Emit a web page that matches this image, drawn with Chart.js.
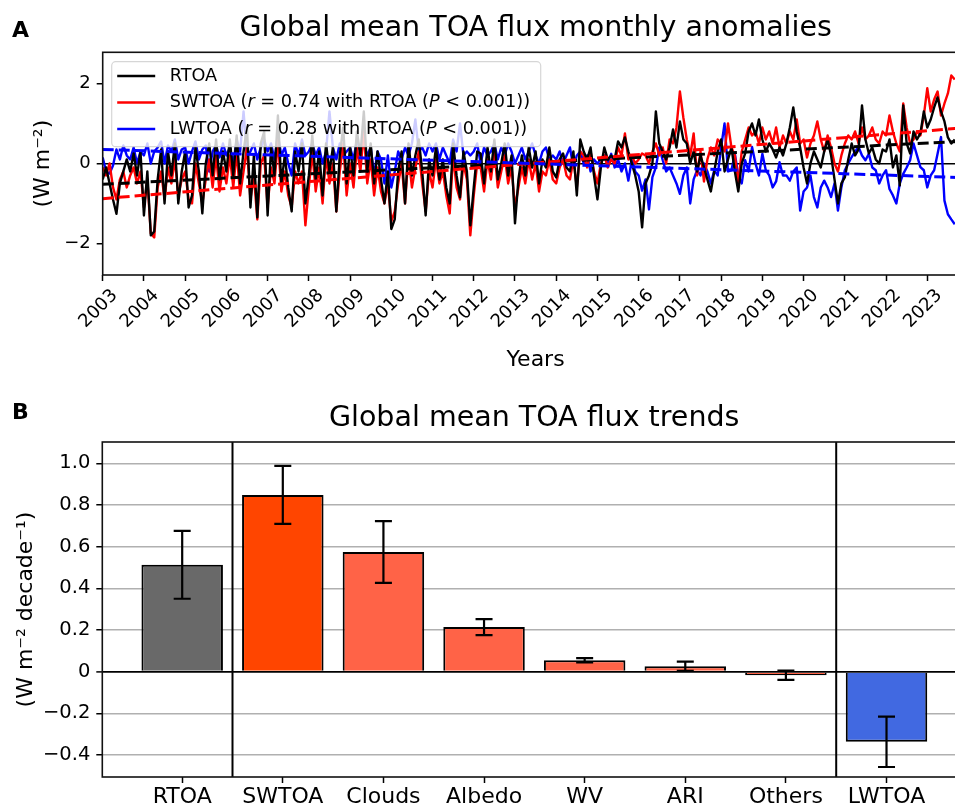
<!DOCTYPE html>
<html>
<head>
<meta charset="utf-8">
<title>Global mean TOA flux</title>
<script src="https://cdn.jsdelivr.net/npm/chart.js@4.4.1/dist/chart.umd.min.js"></script>
<style>
  html, body { margin: 0; padding: 0; background: #fff; overflow: hidden; width: 955px; height: 808px; }
  #wrap { position: relative; width: 955px; height: 808px; overflow: hidden; }
  canvas { position: absolute; left: 0; }
  #chartA { top: 0; width: 975px; height: 385px; }
  #chartB { top: 385px; width: 975px; height: 423px; }
</style>
</head>
<body>
<div id="wrap">
  <canvas id="chartA" width="975" height="385"></canvas>
  <canvas id="chartB" width="975" height="423"></canvas>
</div>
<script>
"use strict";

// ---- Panel A data: monthly anomalies (W m-2), Jan 2003 onwards ----
const startYear = 2003
const yearTicks = [2003, 2004, 2005, 2006, 2007, 2008, 2009, 2010, 2011, 2012, 2013,
                   2014, 2015, 2016, 2017, 2018, 2019, 2020, 2021, 2022, 2023]
const yTicksA = [-2, 0, 2]

const rtoa = [
  -0.4, -0.1, -0.5, -0.9, -1.26, -0.5, -0.2, 0.1, -0.2, 0.25, -0.3, 0.3,      // 2003
  -1.3, -0.2, -1.8, -1.7, -0.4, 0.35, -1.0, 0.3, -0.3, 0.5, -1.0, -0.2,       // 2004
  0.3, -1.1, -0.8, 0.4, -0.2, -1.25, 0.0, 0.5, -0.3, 0.6, -0.4, 0.3,          // 2005
  -0.2, 0.6, -0.3, 0.7, -0.5, 0.3, 0.9, -1.1, 0.2, -1.35, 0.5, 0.8,           // 2006
  -1.3, 0.4, -0.3, 1.2, -0.5, 0.2, -0.6, -1.2, 0.3, -0.2, 0.5, -1.0,          // 2007
  -0.3, 0.7, -0.4, 0.3, -0.8, 0.5, -0.2, 0.4, -1.2, 0.2, 0.9, -0.5,           // 2008
  0.4, -0.3, 0.8, 0.2, 1.3, -0.2, 0.5, -0.5, 0.3, -0.4, -1.0, -0.2,           // 2009
  -1.64, -1.4, -0.2, 0.3, -1.0, 0.5, -0.3, 0.2, 0.6, -0.2, -1.3, 0.1,         // 2010
  -0.3, 0.4, -0.4, 0.1, -0.6, -1.0, 0.5, -0.3, -0.85, 0.3, -0.2, -1.55,       // 2011
  -0.6, 0.3, 0.25, -0.5, 0.4, -0.2, 0.6, -0.4, 0.0, 0.5, -0.3, 0.2,           // 2012
  -1.5, -0.4, 0.2, -0.3, 0.4, -0.1, 0.3, -0.5, 0.1, -0.1, 0.4, -0.2,          // 2013
  -0.35, 0.1, 0.25, -0.1, -0.2, 0.3, -0.8, 0.6, 0.3, 0.1, 0.4, -0.3,          // 2014
  -0.9, -0.1, 0.4, 0.1, 0.2, 0.1, 0.55, 0.4, 0.65, 0.3, 0.0, -0.3,            // 2015
  -0.7, -1.6, -0.5, -0.3, 0.0, 1.3, 0.5, 0.3, 0.1, 0.4, 0.85, 0.4,            // 2016
  1.05, 0.6, 0.5, 0.0, 0.3, -0.2, 0.2, -0.1, -0.4, -0.7, -0.2, 0.3,           // 2017
  0.6, -0.2, 0.1, 0.4, -0.2, -0.7, 0.0, 0.25, 0.8, 1.0, 0.7, 1.1,             // 2018
  0.6, 0.3, 0.5, 0.35, 0.15, 0.4, 0.2, 0.5, 0.9, 1.4, 0.8, 0.4,               // 2019
  -0.1, -0.5, 0.0, 0.3, 0.1, -0.1, 0.3, 0.6, 0.2, -0.4, -1.0, -0.5,           // 2020
  -0.35, 0.1, 0.5, 0.2, 0.35, 1.45, 0.6, 0.25, 0.4, 0.1, 0.0, 0.35,           // 2021
  0.3, 0.6, -0.1, 0.2, -0.55, 1.45, 0.5, 0.25, 0.8, 0.6, 0.75, 1.3,           // 2022
  0.9, 1.1, 1.4, 1.65, 1.3, 1.05, 0.65, 0.5, 0.6                              // 2023
]

const swtoa = [
  -0.1, -0.3, 0.0, -0.6, -0.9, -0.4, -0.2, -0.6, -0.3, -0.1, -0.5, -0.2,      // 2003
  -1.1, -0.4, -1.75, -1.85, -0.6, -0.2, -0.9, -0.1, -0.5, 0.1, -0.8, -0.4,    // 2004
  -0.2, -0.9, -1.0, 0.0, -0.5, -1.0, -0.4, 0.1, -0.6, 0.2, -0.7, -0.1,        // 2005
  -0.5, 0.2, -0.6, 0.3, -0.8, -0.2, 0.4, -0.9, -0.3, -1.4, 0.0, 0.2,          // 2006
  -1.1, -0.1, -0.5, 0.6, -0.7, -0.2, -0.8, -1.1, -0.2, -0.5, -0.2, -1.55,     // 2007
  -0.6, 0.3, -0.7, -0.1, -1.0, 0.2, -0.5, 0.0, -1.2, -0.2, 0.5, -0.8,         // 2008
  0.0, -0.6, 0.4, -0.2, 0.8, -0.5, 0.1, -0.8, -0.1, -0.7, -1.0, -0.5,         // 2009
  -1.45, -1.2, -0.5, 0.0, -1.0, 0.2, -0.6, -0.1, 0.3, -0.5, -1.2, -0.2,       // 2010
  -0.6, 0.1, -0.5, -0.2, -0.8, -1.25, 0.2, -0.6, -0.9, 0.0, -0.4, -1.8,       // 2011
  -0.8, 0.0, -0.1, -0.7, 0.1, -0.4, 0.3, -0.6, -0.2, 0.2, -0.5, -0.1,         // 2012
  -1.1, -0.6, -0.1, -0.5, 0.1, -0.4, 0.0, -0.7, -0.2, -0.3, 0.1, -0.4,        // 2013
  -0.5, -0.1, 0.1, -0.3, -0.4, 0.1, -0.6, 0.3, 0.2, -0.1, 0.3, -0.2,          // 2014
  -0.5, 0.0, 0.2, -0.1, 0.1, 0.0, 0.4, 0.2, 0.75, 0.1, 0.2, 0.0,              // 2015
  0.1, 0.25, 0.2, 0.0, 0.3, 0.5, 0.2, 0.4, 0.0, 0.6, 0.5, 0.9,                // 2016
  1.8, 1.15, 0.6, 0.2, 0.75, -0.3, 0.3, -0.45, 0.1, 0.4, 0.2, 0.6,            // 2017
  0.5, 0.3, 1.0, 0.4, 0.2, -0.5, 0.3, 0.6, 0.9, 0.7, 0.8, 0.5,                // 2018
  0.9, 0.6, 0.8, 0.5, 0.9, 0.4, 0.7, 0.5, 0.8, 0.6, 1.1, 0.5,                 // 2019
  0.6, 0.15, 0.5, 0.7, 1.05, 0.6, 0.3, 0.7, 0.4, 0.0, -0.2, 0.2,              // 2020
  0.5, 0.7, 0.6, 0.8, 0.5, 0.9, 0.6, 0.7, 0.9, 0.6, 0.5, 0.8,                 // 2021
  0.7, 1.2, 0.8, 0.5, 0.3, 1.5, 0.9, 0.5, 0.6, 0.8, 0.7, 1.2,                 // 2022
  1.88, 1.3, 1.6, 1.8, 1.2, 1.5, 1.75, 2.2, 2.1                               // 2023
]

const lwtoa = [
  0.15, -0.2, -0.25, -0.05, 0.35, 0.1, 0.45, 0.2, 0.1, 0.4, 0.0, 0.3,         // 2003
  0.2, 0.5, 0.0, 0.3, 0.4, 0.55, 0.0, 0.45, 0.3, 0.6, 0.1, 0.35,              // 2004
  0.4, 0.0, 0.3, 0.55, 0.1, 0.35, 0.45, -0.2, 0.3, 0.45, 0.15, 0.5,           // 2005
  0.2, 0.4, 0.0, 0.6, 0.3, 1.3, 0.2, 0.3, 0.5, 0.1, 0.4, 0.6,                 // 2006
  0.3, 0.5, 0.1, 0.7, 0.2, 0.4, 0.0, -0.3, 0.5, 0.2, 0.6, 0.2,                // 2007
  0.3, 0.5, 0.2, 0.4, 0.0, 0.3, 1.3, 0.4, 0.1, 0.5, 0.2, 0.3,                 // 2008
  0.4, 0.1, 0.6, 0.3, 0.5, 0.2, 0.4, -0.3, 0.3, 0.1, -0.5, 0.2,               // 2009
  -0.6, -0.2, 0.3, 0.1, 0.4, 0.2, 0.5, 1.1, 0.3, 0.4, 0.2, 0.5,               // 2010
  0.3, 0.5, 0.1, 0.4, 0.2, 0.0, 0.6, 0.3, 1.0, 0.2, 0.3, 0.2,                 // 2011
  0.3, 0.5, 0.0, 0.4, 0.2, 0.3, 0.5, 0.1, 0.4, 0.2, 0.5, 0.3,                 // 2012
  0.0, 0.2, 0.4, 0.1, 0.3, 0.5, 0.2, 0.0, 0.3, 0.4, 0.1, 0.2,                 // 2013
  0.1, 0.3, 0.0, 0.2, 0.4, -0.1, 0.2, 0.3, 0.0, 0.2, -0.2, 0.1,               // 2014
  0.0, 0.1, 0.2, 0.0, 0.24, -0.1, 0.1, -0.2, 0.0, -0.43, 0.1, -0.2,           // 2015
  -0.3, -0.68, -0.4, -1.15, -0.34, -0.1, 0.4, 0.08, -0.2, -0.1, -0.3, -0.5,   // 2016
  -0.76, -0.3, -0.1, -1.0, -0.4, -0.17, -0.3, 0.0, -0.2, -0.5, -0.17, -0.3,   // 2017
  0.41, 1.0, -0.2, -0.17, 0.24, -0.3, -0.5, 0.08, -0.2, 0.41, 0.0, -0.3,      // 2018
  0.24, -0.17, -0.3, -0.6, -0.45, 0.03, -0.3, -0.3, -0.43, -0.2, -0.1, -1.18, // 2019
  -0.7, -0.6, -0.3, -0.84, -1.1, -0.6, -0.43, -0.6, -0.84, -0.5, -1.18, -0.6, // 2020
  -0.17, 0.0, 0.16, 0.3, 0.41, 0.2, 0.08, 0.24, -0.1, -0.17, -0.5, -0.3,      // 2021
  -0.17, -0.64, -0.8, -1.0, -0.5, -0.26, -0.1, 0.08, 0.5, 0.2, -0.09, -0.17,  // 2022
  -0.6, -0.3, -0.17, 0.24, 0.66, -0.93, -1.27, -1.4, -1.52                    // 2023
]

// linear trend lines (start / end of record)
const trendYears = [2003, 2023.75]
const rtoaTrend = [-0.52, 0.55]
const swtoaTrend = [-0.88, 0.88]
const lwtoaTrend = [0.35, -0.35]

// ---- Panel B data: trends (W m-2 decade-1) ----
const categories = ["RTOA", "SWTOA", "Clouds", "Albedo", "WV", "ARI", "Others", "LWTOA"]
const trendValues = [0.513, 0.848, 0.574, 0.214, 0.055, 0.026, -0.017, -0.336]
const trendErrors = [0.163, 0.139, 0.148, 0.038, 0.01, 0.022, 0.022, 0.121]
const yTicksB = [-0.4, -0.2, 0, 0.2, 0.4, 0.6, 0.8, 1.0]
const groupDividers = [0.5, 6.5]

// styles
const barColors = ["#696969", "#ff4500", "#ff6347", "#ff6347", "#ff6347", "#ff6347", "#ff6347", "#4169e1"]
const FONT = "'DejaVu Sans', 'Liberation Sans', sans-serif"
Chart.defaults.font.family = FONT
Chart.defaults.color = "#000"

function minusSign(s) { return String(s).replace("-", "\u2212") }

function monthPoints(values) {
    return values.map((v, i) => ({x: startYear + i / 12, y: v}))
}
function pairPoints(xs, ys) {
    return xs.map((x, i) => ({x: x, y: ys[i]}))
}

function strokeFrame(ctx, a) {
    ctx.save()
    ctx.strokeStyle = "#111"
    ctx.lineWidth = 1.6
    ctx.strokeRect(a.left, a.top, a.right - a.left, a.bottom - a.top)
    ctx.restore()
}

function panelTitle(chart, letter, text, baseline, letterBaseline) {
    const ctx = chart.ctx, a = chart.chartArea
    ctx.save()
    ctx.fillStyle = "#000"
    ctx.textBaseline = "alphabetic"
    ctx.textAlign = "center"
    ctx.font = "28.5px " + FONT
    ctx.fillText(text, (a.left + a.right) / 2, baseline)
    ctx.textAlign = "left"
    ctx.font = "bold 22px " + FONT
    ctx.fillText(letter, 12, letterBaseline)
    ctx.restore()
}

// legend of panel A (drawn over the lines, semi transparent like matplotlib)
const legendRows = [
    {color: "#000000", parts: [["RTOA", false]]},
    {color: "#ff0000", parts: [["SWTOA (", false], ["r", true], [" = 0.74 with RTOA (", false], ["P", true], [" < 0.001))", false]]},
    {color: "#0000ff", parts: [["LWTOA (", false], ["r", true], [" = 0.28 with RTOA (", false], ["P", true], [" < 0.001))", false]]}
]

function drawLegend(ctx, a) {
    const x = a.left + 9, y = a.top + 9.4, w = 429, h = 85, r = 4
    ctx.save()
    ctx.beginPath()
    ctx.moveTo(x + r, y)
    ctx.arcTo(x + w, y, x + w, y + h, r)
    ctx.arcTo(x + w, y + h, x, y + h, r)
    ctx.arcTo(x, y + h, x, y, r)
    ctx.arcTo(x, y, x + w, y, r)
    ctx.closePath()
    ctx.fillStyle = "rgba(255,255,255,0.8)"
    ctx.fill()
    ctx.strokeStyle = "rgba(204,204,204,0.8)"
    ctx.lineWidth = 1.2
    ctx.stroke()

    legendRows.forEach((row, k) => {
        const ly = a.top + 23.7 + k * 26.5
        ctx.strokeStyle = row.color
        ctx.lineWidth = 2.4
        ctx.beginPath()
        ctx.moveTo(a.left + 14.5, ly)
        ctx.lineTo(a.left + 52.5, ly)
        ctx.stroke()
        let tx = a.left + 67
        ctx.fillStyle = "#000"
        ctx.textBaseline = "middle"
        ctx.textAlign = "left"
        for (const part of row.parts) {
            ctx.font = (part[1] ? "italic " : "") + "17.7px " + FONT
            ctx.fillText(part[0], tx, ly)
            tx += ctx.measureText(part[0]).width
        }
    })
    ctx.restore()
}

const panelAPlugin = {
    id: "panelA",
    afterDatasetsDraw(chart) {
        strokeFrame(chart.ctx, chart.chartArea)
        drawLegend(chart.ctx, chart.chartArea)
        panelTitle(chart, "A", "Global mean TOA flux monthly anomalies", 36, 37)
    }
}

const panelBPlugin = {
    id: "panelB",
    afterDatasetsDraw(chart) {
        const ctx = chart.ctx, a = chart.chartArea
        const xs = chart.scales.x, ys = chart.scales.y
        ctx.save()
        // group dividers
        ctx.strokeStyle = "#000"
        ctx.lineWidth = 2
        for (const d of groupDividers) {
            const px = xs.getPixelForValue(d)
            ctx.beginPath()
            ctx.moveTo(px, a.top)
            ctx.lineTo(px, a.bottom)
            ctx.stroke()
        }
        // error bars
        ctx.lineWidth = 2.2
        trendValues.forEach((v, i) => {
            const px = xs.getPixelForValue(i)
            const top = ys.getPixelForValue(v + trendErrors[i])
            const bot = ys.getPixelForValue(v - trendErrors[i])
            ctx.beginPath()
            ctx.moveTo(px, top); ctx.lineTo(px, bot)
            ctx.moveTo(px - 8.5, top); ctx.lineTo(px + 8.5, top)
            ctx.moveTo(px - 8.5, bot); ctx.lineTo(px + 8.5, bot)
            ctx.stroke()
        })
        ctx.restore()
        strokeFrame(ctx, a)
        panelTitle(chart, "B", "Global mean TOA flux trends", 41, 34)
    }
}

// ---- Panel A chart ----
function lineSet(label, values, color, order) {
    return {label: label, data: monthPoints(values), borderColor: color, borderWidth: 2.4,
            pointRadius: 0, tension: 0, borderJoinStyle: "round", order: order}
}
function trendSet(values, color) {
    return {data: pairPoints(trendYears, values), borderColor: color, borderWidth: 3,
            borderDash: [11, 5], pointRadius: 0, order: -1}
}

new Chart(document.getElementById("chartA").getContext("2d"), {
    type: "line",
    data: {
        datasets: [
            lineSet("LWTOA", lwtoa, "#0000ff", 3),
            lineSet("SWTOA", swtoa, "#ff0000", 2),
            lineSet("RTOA", rtoa, "#000000", 1),
            trendSet(lwtoaTrend, "#0000ff"),
            trendSet(swtoaTrend, "#ff0000"),
            trendSet(rtoaTrend, "#000000")
        ]
    },
    options: {
        responsive: false,
        animation: false,
        layout: {padding: {top: 52.3, right: 6.5, left: 0, bottom: 0}},
        plugins: {legend: {display: false}, title: {display: false}, tooltip: {enabled: false}},
        scales: {
            x: {
                type: "linear", min: 2003, max: 2024,
                afterBuildTicks: s => { s.ticks = yearTicks.map(v => ({value: v})) },
                afterFit: s => { s.height = 110 },
                border: {display: false},
                grid: {drawOnChartArea: false, tickLength: 6, tickColor: "#000", tickWidth: 1.5},
                ticks: {autoSkip: false, minRotation: 45, maxRotation: 45, padding: 4, labelOffset: 12,
                        font: {size: 18}, callback: v => String(v)},
                title: {display: true, text: "Years", font: {size: 22, lineHeight: 1.2}, padding: {top: 0, bottom: 11.8}}
            },
            y: {
                min: -2.79, max: 2.78,
                afterBuildTicks: s => { s.ticks = yTicksA.map(v => ({value: v})) },
                afterFit: s => { s.width = 102.7 },
                border: {display: false},
                grid: {color: c => (c.tick && c.tick.value === 0) ? "#000" : "rgba(0,0,0,0)",
                       lineWidth: 1.5, tickLength: 6, tickColor: "#000", tickWidth: 1.5},
                ticks: {padding: 6, font: {size: 18}, callback: v => minusSign(v)},
                title: {display: true, text: "(W m\u207B\u00B2)", font: {size: 22, lineHeight: 1.2}, padding: {top: 29.8, bottom: 0}}
            }
        }
    },
    plugins: [panelAPlugin]
})

// ---- Panel B chart ----
new Chart(document.getElementById("chartB").getContext("2d"), {
    type: "bar",
    data: {
        datasets: [{
            data: categories.map((c, i) => ({x: i, y: trendValues[i]})),
            backgroundColor: barColors,
            borderColor: "#000",
            borderWidth: 2,
            barPercentage: 0.81,
            categoryPercentage: 1.0
        }]
    },
    options: {
        responsive: false,
        animation: false,
        layout: {padding: {top: 57, right: 9, left: 0, bottom: 0}},
        plugins: {legend: {display: false}, title: {display: false}, tooltip: {enabled: false}},
        scales: {
            x: {
                type: "linear", min: -0.794, max: 7.79, offset: false,
                afterBuildTicks: s => { s.ticks = categories.map((c, i) => ({value: i})) },
                afterFit: s => { s.height = 31 },
                border: {display: false},
                grid: {offset: false, drawOnChartArea: false, tickLength: 6, tickColor: "#000", tickWidth: 1.5},
                ticks: {autoSkip: false, maxRotation: 0, padding: 1, font: {size: 22},
                        callback: v => categories[v]}
            },
            y: {
                min: -0.505, max: 1.102,
                afterBuildTicks: s => { s.ticks = yTicksB.map(v => ({value: v})) },
                afterFit: s => { s.width = 102.3 },
                border: {display: false},
                grid: {color: c => (c.tick && Math.abs(c.tick.value) < 1e-9) ? "#000" : "#b0b0b0",
                       lineWidth: c => (c.tick && Math.abs(c.tick.value) < 1e-9) ? 1.8 : 1.5,
                       tickLength: 6, tickColor: "#000", tickWidth: 1.5},
                ticks: {padding: 6, font: {size: 19.5},
                        callback: v => v === 0 ? "0" : minusSign(v.toFixed(1))},
                title: {display: true, text: "(W m\u207B\u00B2 decade\u207B\u00B9)", font: {size: 22, lineHeight: 1.2},
                        padding: {top: 12.8, bottom: 0}}
            }
        }
    },
    plugins: [panelBPlugin]
})
</script>
</body>
</html>
